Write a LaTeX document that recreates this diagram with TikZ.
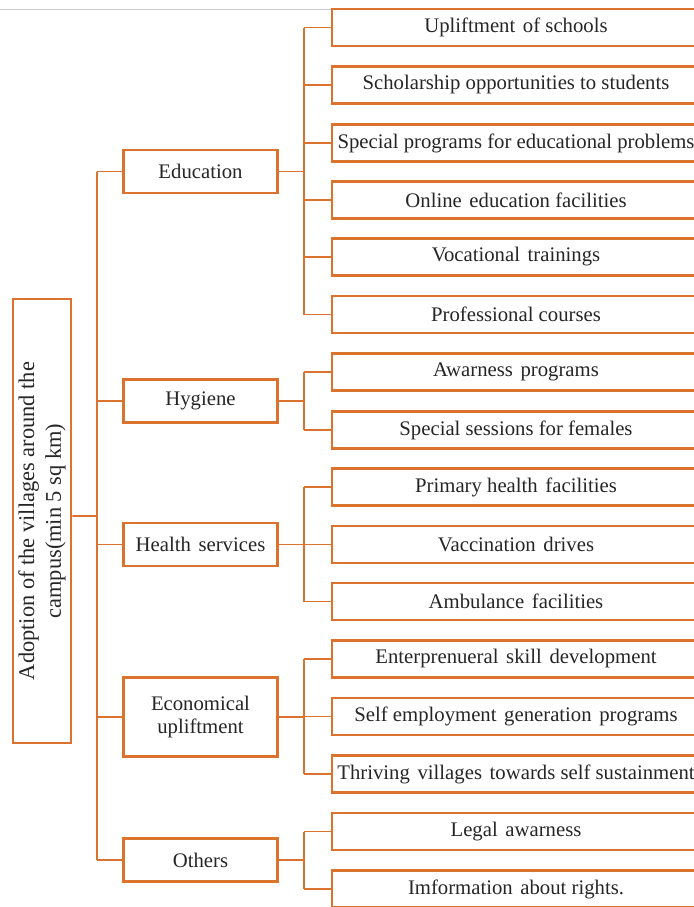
\documentclass[tikz,border=0pt]{standalone}
\usepackage{fontspec}
\setmainfont{Liberation Serif}
\definecolor{tree}{RGB}{219,114,46}
\definecolor{rule}{RGB}{205,205,205}
% a slightly wider word gap
\newcommand\gapsp{\hspace{0.12em}\ }
\begin{document}
\begin{tikzpicture}[x=1bp,y=-1bp,
  box/.style={draw=tree,line width=2.6bp,fill=white,inner sep=0pt,align=center,
    font=\fontsize{20.8}{23}\selectfont,text=black!85},
  leaf/.style={box,minimum width=368bp,minimum height=37bp},
  branch/.style={box,minimum width=154bp,minimum height=43bp},
  link/.style={draw=tree,line width=1.7bp}]
\useasboundingbox (0,0) rectangle (694,907);
\clip (0,0) rectangle (694,907);
\fill[white] (0,0) rectangle (694,907);
\draw[rule,line width=0.9bp] (0,9) -- (332,9);

% root
\node[box,rotate=90,minimum width=444bp,minimum height=58bp,
      font=\fontsize{22.5}{27}\selectfont] (root) at (42,521)
  {Adoption of the villages around the\\campus(min 5 sq km)};

% second level
\node[branch] (edu) at (200.5,171.5) {Education};
\node[branch] (hyg) at (200.5,401) {Hygiene};
\node[branch] (hea) at (200.5,544.5) {Health\gapsp services};
\node[branch,minimum height=79bp] (eco) at (200.5,717) {Economical\\upliftment};
\node[branch] (oth) at (200.5,860) {Others};

% leaves
\node[leaf] (l1)  at (516,27.5)  {Upliftment\gapsp of schools};
\node[leaf] (l2)  at (516,85)    {Scholarship opportunities to students};
\node[leaf] (l3)  at (516,143)   {Special programs for educational problems};
\node[leaf] (l4)  at (516,200)   {Online\gapsp education facilities};
\node[leaf] (l5)  at (516,257)   {Vocational\gapsp trainings};
\node[leaf] (l6)  at (516,314.5) {Professional courses};
\node[leaf] (l7)  at (516,372)   {Awarness\gapsp programs};
\node[leaf] (l8)  at (516,430)   {Special sessions for females};
\node[leaf] (l9)  at (516,487)   {Primary health\gapsp facilities};
\node[leaf] (l10) at (516,544.5) {Vaccination\gapsp drives};
\node[leaf] (l11) at (516,601.5) {Ambulance\gapsp facilities};
\node[leaf] (l12) at (516,659)   {Enterprenueral\gapsp skill\gapsp development};
\node[leaf] (l13) at (516,716.5) {Self employment\gapsp generation\gapsp programs};
\node[leaf] (l14) at (516,774)   {Thriving\gapsp villages\gapsp towards self sustainment};
\node[leaf] (l15) at (516,831.5) {Legal\gapsp awarness};
\node[leaf] (l16) at (516,889)   {Imformation\gapsp about rights.};

% trunk from the root to the five branches
\coordinate (tr) at (97,516);
\coordinate (bus) at (304,0);
\draw[link] ([yshift=5bp]root.south) -- (tr);
\draw[link] (tr |- edu.west) -- (tr |- oth.west);
\foreach \b in {edu,hyg,hea,eco,oth}
  \draw[link] (\b.west) -- (\b.west -| tr);

% buses from each branch to its leaves
\foreach \b/\first/\last/\kids in {edu/l1/l6/{l1,l2,l3,l4,l5,l6},
                                    hyg/l7/l8/{l7,l8},
                                    hea/l9/l11/{l9,l10,l11},
                                    eco/l12/l14/{l12,l13,l14},
                                    oth/l15/l16/{l15,l16}}{
  \draw[link] (\b.east) -- (\b.east -| bus);
  \draw[link] (bus |- \first.west) -- (bus |- \last.west);
  \foreach \k in \kids
    \draw[link] (\k.west) -- (\k.west -| bus);
}
\end{tikzpicture}
\end{document}
